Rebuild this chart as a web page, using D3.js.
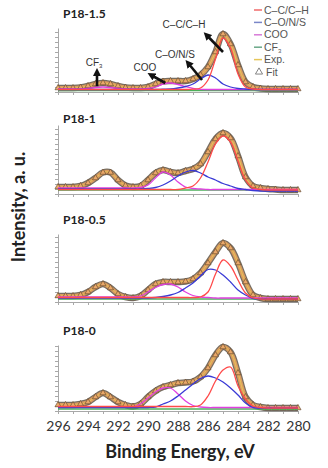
<!DOCTYPE html>
<html>
<head>
<meta charset="utf-8">
<script src="https://cdn.jsdelivr.net/npm/d3@7"></script>
<style>
  body { margin: 0; background: #fff; }
  svg { display: block; }
</style>
</head>
<body>
<svg width="328" height="468"></svg>
<script>
// binding energy grid (eV)
const energy = [296, 295.5, 295, 294.5, 294, 293.5, 293, 292.5, 292, 291.5, 291, 290.5, 290, 289.5, 289, 288.5, 288, 287.5, 287, 286.5, 286, 285.5, 285, 284.5, 284, 283.5, 283, 282.5, 282, 281.5, 281, 280.5, 280];

const tickValues = [296, 294, 292, 290, 288, 286, 284, 282, 280];
const tickLabels = ["296", "294", "292", "290", "288", "286", "284", "282", "280"];
const minorTicks = [296, 295, 294, 293, 292, 291, 290, 289, 288, 287, 286, 285, 284, 283, 282, 281, 280];

const sampleNames = ["P18-1.5", "P18-1", "P18-0.5", "P18-0"];

// P18-1.5
const p15Exp = [4, 4, 4, 4.5, 6, 8, 9, 8, 6, 4.5, 4, 4, 5, 8, 10.5, 11, 11, 11, 13, 17, 25, 40, 58, 48, 27, 10, 5, 3.5, 3, 3, 3, 3, 3];
const p15CC = [2.5, 2.5, 2.5, 2.5, 2.5, 2.5, 2.5, 2.5, 2.5, 2.5, 2.5, 2.5, 2.5, 2.5, 2.5, 2.5, 2.5, 2.5, 2.8, 4, 12, 33, 54, 44, 18, 5, 3, 2.5, 2.5, 2.5, 2.5, 2.5, 2.5];
const p15CO = [2.5, 2.5, 2.5, 2.5, 2.5, 2.5, 2.5, 2.5, 2.5, 2.5, 2.5, 2.5, 2.5, 2.5, 2.8, 3, 4, 5.5, 8, 13, 17, 14, 8, 5, 3.5, 3, 2.7, 2.5, 2.5, 2.5, 2.5, 2.5, 2.5];
const p15COO = [3, 3, 3, 3, 3.5, 4.5, 5, 4.5, 3.5, 3, 3, 3, 3.5, 5, 8, 9, 7.5, 5.5, 3.5, 2.7, 2.5, 2.5, 2.5, 2.5, 2.5, 2.5, 2.5, 2.5, 2.5, 2.5, 2.5, 2.5, 2.5];
const p15CF3 = [1.5, 1.5, 1.5, 1.5, 1.5, 1.5, 1.5, 1.5, 1.5, 1.5, 1.5, 1.5, 1.5, 1.5, 1.5, 1.5, 1.5, 1.5, 1.5, 1.5, 1.5, 1.5, 1.5, 1.5, 1.5, 1.5, 1.5, 1.5, 1.5, 1.5, 1.5, 1.5, 1.5];

// P18-1
const p10Exp = [7, 7, 7, 8, 11, 16, 21.5, 21.5, 14, 8.5, 7, 8, 14, 21, 24, 22, 21, 23, 25, 30, 42, 55, 61, 56, 38, 17, 8, 6, 5, 4.5, 4, 4, 4];
const p10CC = [4.5, 4.5, 4.5, 4.5, 4.5, 4.5, 4.5, 4.5, 4.5, 4.5, 4.5, 4.5, 4.5, 4.5, 4.5, 4.5, 4.5, 6, 8, 16, 32, 50, 58, 52, 33, 14, 6, 4.5, 4, 4, 4, 4, 4];
const p10CO = [5, 5, 5, 5, 5, 5, 5, 5, 5, 5, 5, 5, 5.5, 6.5, 9, 13, 18, 22, 23.5, 21, 17, 14, 10.5, 8, 5.5, 4.5, 3.5, 3, 3, 3, 3, 3, 3];
const p10COO = [6, 6, 6, 6, 6, 6, 6, 6, 6, 6, 6, 6.5, 9, 16, 22, 19, 12, 7, 5.5, 5, 4.5, 4.5, 4.5, 4.5, 4.5, 4.5, 4.5, 4.5, 4.5, 4.5, 4.5, 4.5, 4.5];
const p10CF3 = [4, 4, 4, 4, 4, 4, 4, 4, 4, 4, 4, 4, 4, 4, 4, 4, 4, 4, 4, 4, 4, 4, 4, 4, 4, 4, 4, 4, 4, 4, 4, 4, 4];

// P18-0.5
const p05Exp = [6, 6, 6, 7, 10, 15, 18, 14, 8, 5, 4, 6, 12, 18, 20, 20, 20, 20.5, 23, 29, 39, 50, 59, 54, 39, 20, 7, 4, 3, 3, 3, 3, 3];
const p05CC = [4.5, 4.5, 4.5, 4.5, 4.5, 4.5, 4.5, 4.5, 4.5, 4.5, 4.5, 4.5, 4.5, 4.5, 4.5, 4.5, 4.5, 4.5, 4.5, 5, 10, 28, 42, 36, 22, 9, 4, 3, 3, 3, 3, 3, 3];
const p05CO = [4, 4, 4, 4, 4, 4, 4, 4, 4, 4, 4, 4, 4, 4.5, 5.5, 7, 9.5, 14, 19, 26, 32.5, 32, 27, 20, 12, 7, 3.5, 3, 3, 3, 3, 3, 3];
const p05COO = [5, 5, 5, 5, 5, 5, 5, 5, 5, 5, 5, 6, 10, 14.5, 17.5, 18, 15, 10, 6.5, 5, 4.5, 4, 4, 4, 4, 4, 4, 4, 4, 4, 4, 4, 4];
const p05CF3 = [3, 3, 3, 3, 3, 3, 3, 3, 3, 3, 3, 3, 3, 3, 3, 3, 3, 3, 3, 3, 3, 3, 3, 3, 3, 3, 3, 3, 3, 3, 3, 3, 3];

// P18-0
const p00Exp = [6, 6, 6, 7, 9, 14, 18, 14, 9, 6, 4.5, 7, 14, 20, 24, 26, 28, 28.5, 29.5, 34, 43, 56, 64, 59, 38, 14, 6, 4, 3, 3, 3, 3, 3];
const p00CC = [4.5, 4.5, 4.5, 4.5, 4.5, 4.5, 4.5, 4.5, 4.5, 4.5, 4.5, 4.5, 4.5, 4.5, 4.5, 4.5, 4.5, 4.5, 4.3, 6, 15, 30, 41, 44, 25, 12, 5, 3.5, 3, 3, 3, 3, 3];
const p00CO = [3.5, 3.5, 3.5, 3.5, 3.5, 3.5, 3.5, 3.5, 3.5, 3.5, 3.5, 3.5, 3.5, 4, 7, 10, 15, 21, 27, 32.5, 35, 33, 29, 23, 16, 8, 3.5, 3, 3, 3, 3, 3, 3];
const p00COO = [4, 4, 4, 4, 4, 4, 4, 4, 4, 4, 4, 7, 13, 19, 23, 23, 17, 10, 5.5, 4, 3.5, 3.5, 3.5, 3.5, 3.5, 3.5, 3.5, 3.5, 3.5, 3.5, 3.5, 3.5, 3.5];
const p00CF3 = [2, 2, 2, 2, 2, 2, 2, 2, 2, 2, 2, 2, 2, 2, 2, 2, 2, 2, 2, 2, 2, 2, 2, 2, 2, 2, 2, 2, 2, 2, 2, 2, 2];

const legendLabels = ["C\u2013C/C\u2013H", "C\u2013O/N/S", "COO", "CF3", "Exp.", "Fit"];
const legendColors = ["#f06a6a", "#7a86c8", "#d77ad7", "#6aa888", "#e6c65a", "#777"];

// peak annotations on the top panel: [label, text energy, text intensity, arrow tail E, tail I, head E, head I]
const annotations = [
  ["CF3", 293.6, 26, 293.4, 6, 293.4, 20],
  ["COO", 290.2, 21, 288.85, 9, 289.8, 17],
  ["C\u2013O/N/S", 288.2, 34, 286.4, 12, 287.33, 29],
  ["C\u2013C/C\u2013H", 287.6, 64, 285.0, 40, 286.1, 57]
];

const panels = [
  { name: sampleNames[0], exp: p15Exp, cc: p15CC, co: p15CO, coo: p15COO, cf3: p15CF3, top: 28, base: 92, titleY: 18 },
  { name: sampleNames[1], exp: p10Exp, cc: p10CC, co: p10CO, coo: p10COO, cf3: p10CF3, top: 125, base: 194, titleY: 123 },
  { name: sampleNames[2], exp: p05Exp, cc: p05CC, co: p05CO, coo: p05COO, cf3: p05CF3, top: 234, base: 302, titleY: 224 },
  { name: sampleNames[3], exp: p00Exp, cc: p00CC, co: p00CO, coo: p00COO, cf3: p00CF3, top: 345, base: 411, titleY: 335 }
];

const svg = d3.select("svg");
const font = "Lato, 'Open Sans', sans-serif";
const axisColor = "#a8a8a8";

const x = d3.scaleLinear().domain([296, 280]).range([58, 298]);

svg.append("defs").append("marker")
  .attr("id", "arrow")
  .attr("viewBox", "0 -4 8 8")
  .attr("refX", 4)
  .attr("refY", 0)
  .attr("markerWidth", 8)
  .attr("markerHeight", 8)
  .attr("markerUnits", "userSpaceOnUse")
  .attr("orient", "auto")
  .append("path")
  .attr("d", "M0,-4L8,0L0,4Z")
  .attr("fill", "#111");

panels.forEach((p, pi) => {
  const y = d3.scaleLinear().domain([0, p.base - p.top]).range([p.base, p.top]);
  const g = svg.append("g");

  // axes
  g.append("g")
    .attr("transform", `translate(0,${p.base})`)
    .call(d3.axisBottom(x).tickValues(minorTicks).tickSize(3).tickSizeOuter(0).tickFormat(""))
    .call(a => a.selectAll("path,line").attr("stroke", axisColor));

  g.append("g")
    .attr("transform", `translate(${x(296)},0)`)
    .call(d3.axisLeft(y).ticks(12).tickSize(3).tickSizeOuter(0).tickFormat(""))
    .call(a => a.selectAll("path,line").attr("stroke", axisColor));

  if (pi === panels.length - 1) {
    g.append("g")
      .attr("transform", `translate(0,${p.base})`)
      .call(d3.axisBottom(x).tickValues(tickValues).tickSize(0)
        .tickPadding(10).tickFormat((d, i) => tickLabels[i]))
      .call(a => a.select(".domain").remove())
      .call(a => a.selectAll("text")
        .attr("font-family", font)
        .attr("font-size", 14)
        .attr("fill", "#333"));
  }

  const line = d3.line()
    .x((d, i) => x(energy[i]))
    .y(d => y(d))
    .curve(d3.curveCatmullRom);

  // experimental band
  g.append("path").attr("d", line(p.exp))
    .attr("fill", "none").attr("stroke", "#3d3020").attr("stroke-width", 6.5)
    .attr("stroke-linejoin", "round").attr("stroke-opacity", 0.7);
  g.append("path").attr("d", line(p.exp))
    .attr("fill", "none").attr("stroke", "#dc9c5e").attr("stroke-width", 4)
    .attr("stroke-linejoin", "round");
  g.append("path").attr("d", line(p.exp))
    .attr("fill", "none").attr("stroke", "#e6c65a").attr("stroke-width", 1);

  g.selectAll(".fit")
    .data(p.exp)
    .join("path")
    .attr("class", "fit")
    .attr("transform", (d, i) => `translate(${x(energy[i])},${y(d)})`)
    .attr("d", d3.symbol(d3.symbolTriangle, 16))
    .attr("fill", "#eaa86a")
    .attr("stroke", "#5a4028")
    .attr("stroke-width", 0.6);

  // components
  [[p.cf3, "#4caf5a"], [p.coo, "#e040e0"], [p.co, "#3a3ad6"], [p.cc, "#ff4a4a"]].forEach(([vals, col]) => {
    g.append("path").attr("d", line(vals))
      .attr("fill", "none").attr("stroke", col).attr("stroke-width", 1.3);
  });

  g.append("text")
    .attr("x", 63)
    .attr("y", p.titleY)
    .attr("font-family", font)
    .attr("font-weight", "bold")
    .attr("font-size", 12)
    .attr("fill", "#222")
    .text(p.name);

  if (pi === 0) {
    annotations.forEach(a => {
      g.append("line")
        .attr("x1", x(a[3])).attr("y1", y(a[4]))
        .attr("x2", x(a[5])).attr("y2", y(a[6]))
        .attr("stroke", "#111").attr("stroke-width", 2.6)
        .attr("marker-end", "url(#arrow)");
      const t = g.append("text")
        .attr("x", x(a[1])).attr("y", y(a[2]))
        .attr("text-anchor", "middle")
        .attr("font-family", "'Liberation Sans', Arial, sans-serif")
        .attr("font-size", 10)
        .attr("fill", "#333");
      if (a[0] === "CF3") {
        t.append("tspan").text("CF");
        t.append("tspan").attr("font-size", 6).attr("dy", 2).text("3");
      } else {
        t.text(a[0]);
      }
    });
  }
});

// legend
const legend = svg.append("g");
legendLabels.forEach((lab, i) => {
  const ly = 10 + i * 12.4;
  if (lab === "Fit") {
    legend.append("path")
      .attr("transform", `translate(259,${ly})`)
      .attr("d", d3.symbol(d3.symbolTriangle, 22))
      .attr("fill", "none").attr("stroke", legendColors[i]).attr("stroke-width", 0.9);
  } else {
    legend.append("line")
      .attr("x1", 254).attr("x2", 262).attr("y1", ly).attr("y2", ly)
      .attr("stroke", legendColors[i]).attr("stroke-width", 1.5);
  }
  const t = legend.append("text")
    .attr("x", lab === "Fit" ? 266 : 264)
    .attr("y", ly + 3.5)
    .attr("font-family", "'Liberation Sans', Arial, sans-serif")
    .attr("font-size", 10.5)
    .attr("fill", "#555");
  if (lab === "CF3") {
    t.append("tspan").text("CF");
    t.append("tspan").attr("font-size", 6).attr("dy", 2).text("3");
  } else {
    t.text(lab);
  }
});

// axis titles
svg.append("text")
  .attr("x", 180)
  .attr("y", 458)
  .attr("text-anchor", "middle")
  .attr("font-family", font)
  .attr("font-weight", "bold")
  .attr("font-size", 18)
  .attr("fill", "#222")
  .text("Binding Energy, eV");

svg.append("text")
  .attr("transform", "translate(25,207) rotate(-90)")
  .attr("text-anchor", "middle")
  .attr("font-family", font)
  .attr("font-weight", "bold")
  .attr("font-size", 18)
  .attr("fill", "#222")
  .text("Intensity, a. u.");
</script>
</body>
</html>
